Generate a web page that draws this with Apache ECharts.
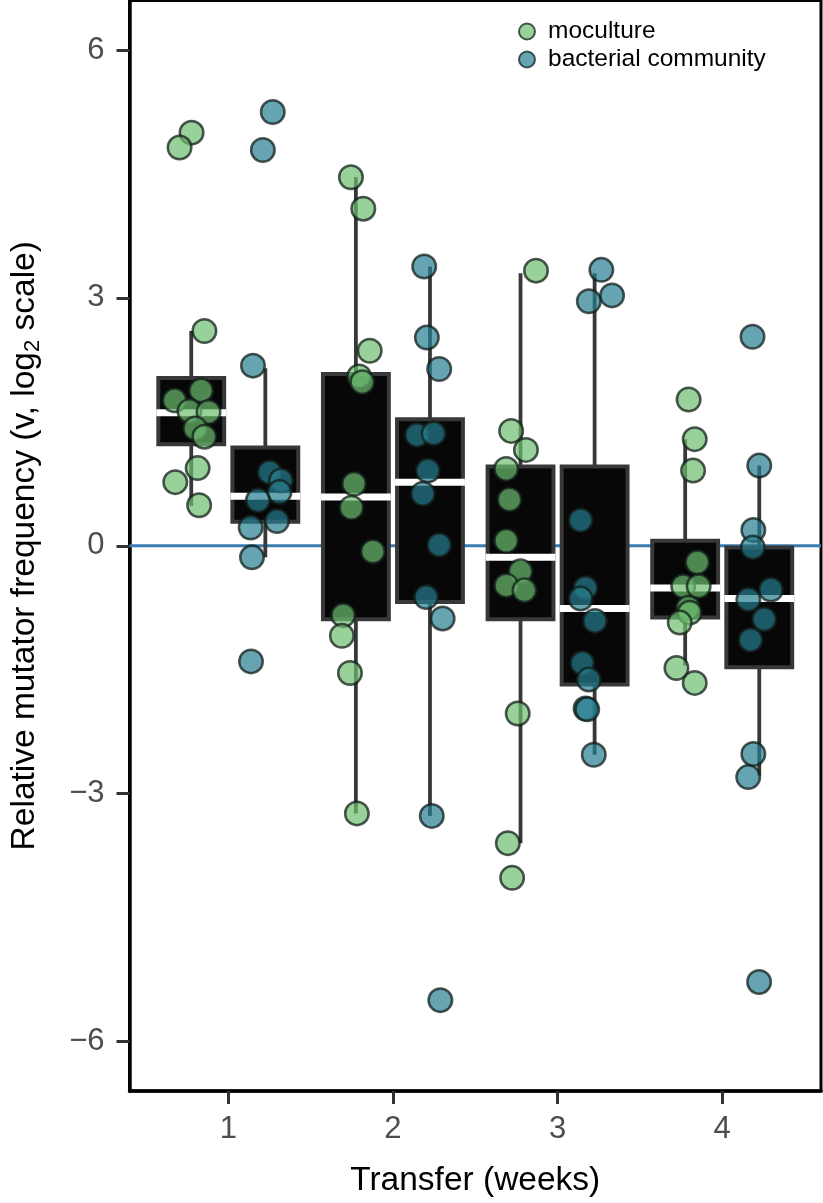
<!DOCTYPE html>
<html><head><meta charset="utf-8">
<script src="https://cdn.jsdelivr.net/npm/echarts@6/dist/echarts.min.js"></script>
<style>html,body{margin:0;padding:0;background:#fff}#c{width:823px;height:1203px}</style>
</head><body><div id="c"></div>
<script>
// Categories (transfer weeks) and tick labels
const categories = [1, 2, 3, 4];
const yTicks = [-6, -3, 0, 3, 6];
const seriesNames = ['moculture', 'bacterial community'];

// Jittered points: x position (weeks axis units) and log2 relative mutator frequency
const mocX = [0.777,0.704,0.855,0.835,0.674,0.764,0.880,0.799,0.855,0.814,0.678,0.823,
              1.745,1.820,1.859,1.795,1.814,1.764,1.748,1.878,1.698,1.690,1.739,1.781,
              2.869,2.718,2.808,2.688,2.708,2.688,2.775,2.688,2.799,2.758,2.698,2.724,
              3.796,3.833,3.823,3.849,3.763,3.857,3.793,3.802,3.742,3.722,3.833];
const mocY = [5.00,4.82,2.60,1.88,1.76,1.63,1.62,1.42,1.32,0.94,0.77,0.49,
              4.46,4.08,2.36,2.05,1.98,0.75,0.46,-0.07,-0.84,-1.09,-1.54,-3.24,
              3.33,1.39,1.16,0.93,0.56,0.06,-0.31,-0.48,-0.54,-2.03,-3.60,-4.02,
              1.77,1.29,0.91,-0.20,-0.49,-0.49,-0.75,-0.81,-0.93,-1.48,-1.66];
const comX = [1.270,1.210,1.150,1.251,1.320,1.311,1.180,1.296,1.136,1.144,1.138,
              2.190,2.206,2.281,2.146,2.247,2.212,2.182,2.281,2.202,2.302,2.236,2.288,
              3.266,3.331,3.190,3.140,3.170,3.140,3.227,3.150,3.190,3.170,3.180,3.220,
              4.184,4.225,4.189,4.186,4.296,4.159,4.255,4.172,4.189,4.158,4.224];
const comY = [5.25,4.79,2.18,0.89,0.79,0.65,0.55,0.30,0.22,-0.14,-1.40,
              3.38,2.52,2.14,1.34,1.36,0.91,0.63,0.01,-0.62,-0.88,-3.27,-5.50,
              3.34,3.03,2.96,0.31,-0.51,-0.64,-0.91,-1.42,-1.62,-1.97,-1.98,-2.53,
              2.53,0.97,0.19,-0.02,-0.53,-0.65,-0.89,-1.14,-2.52,-2.80,-5.28];

// Box statistics per week (lower whisker, Q1, median, Q3, upper whisker)
const mocLo  = [0.48, -3.24, -3.60, -1.45];
const mocQ1  = [1.23, -0.89, -0.89, -0.87];
const mocMed = [1.61, 0.59, -0.14, -0.51];
const mocQ3  = [2.03, 2.08, 0.96, 0.06];
const mocHi  = [2.60, 4.46, 3.30, 1.29];
const comLo  = [-0.14, -3.27, -2.53, -2.78];
const comQ1  = [0.29, -0.68, -1.68, -1.47];
const comMed = [0.60, 0.77, -0.76, -0.64];
const comQ3  = [1.19, 1.53, 0.96, -0.02];
const comHi  = [2.15, 3.38, 3.30, 0.97];

const DODGE = 0.225, BOXW = 0.4;
const FONT = '"Liberation Sans", Arial, Helvetica, sans-serif';
const mocColor = 'rgba(110,190,112,0.88)';
const comColor = 'rgba(38,126,144,0.88)';
const ptBorder = 'rgba(18,28,24,0.92)';

function boxes(lo, q1, med, q3, hi, off) {
  return categories.map((c, i) => [c + off, lo[i], q1[i], med[i], q3[i], hi[i]]);
}
function zip(xs, ys) { return xs.map((x, i) => [x, ys[i]]); }

function renderBox(params, api) {
  const x = api.value(0);
  const pLo = api.coord([x, api.value(1)]);
  const pQ1 = api.coord([x, api.value(2)]);
  const pMed = api.coord([x, api.value(3)]);
  const pQ3 = api.coord([x, api.value(4)]);
  const pHi = api.coord([x, api.value(5)]);
  const w = api.size([BOXW, 0])[0];
  return {
    type: 'group',
    children: [
      { type: 'line', shape: { x1: pLo[0], y1: pLo[1], x2: pHi[0], y2: pHi[1] },
        style: { stroke: '#383838', lineWidth: 3.8 } },
      { type: 'rect', shape: { x: pQ3[0] - w / 2, y: pQ3[1], width: w, height: pQ1[1] - pQ3[1] },
        style: { fill: '#070707', stroke: '#383838', lineWidth: 4 } },
      { type: 'line', shape: { x1: pMed[0] - w / 2 - 2, y1: pMed[1], x2: pMed[0] + w / 2 + 2, y2: pMed[1] },
        style: { stroke: '#ffffff', lineWidth: 7 } }
    ]
  };
}

const chart = echarts.init(document.getElementById('c'), null, { renderer: 'canvas' });
chart.setOption({
  backgroundColor: '#ffffff',
  animation: false,
  textStyle: { fontFamily: FONT },
  grid: { left: 123.5, right: 2, top: 0.5, bottom: 108.5, show: true, borderColor: '#000', borderWidth: 3, containLabel: false },
  legend: {
    data: seriesNames,
    orient: 'vertical',
    left: 513, top: 14,
    padding: 5,
    icon: 'circle',
    itemWidth: 16, itemHeight: 16, itemGap: 3,
    textStyle: { fontSize: 24.5, color: '#000', fontFamily: FONT, padding: [0, 0, 0, 8] }
  },
  xAxis: {
    type: 'value', min: 0.4, max: 4.6,
    name: 'Transfer (weeks)', nameLocation: 'middle', nameGap: 73,
    nameTextStyle: { fontSize: 33.5, color: '#000', fontFamily: FONT },
    axisLine: { show: true, onZero: false, lineStyle: { color: '#000', width: 3.5 } },
    axisTick: { show: true, customValues: categories, length: 13, lineStyle: { color: '#333', width: 3 } },
    axisLabel: { customValues: categories, fontSize: 31, color: '#4d4d4d', margin: 23, fontFamily: FONT },
    splitLine: { show: false }
  },
  yAxis: {
    type: 'value', min: -6.6, max: 6.6,
    name: '{a|Relative mutator frequency (v, log}{s|2}{a| scale)}',
    nameLocation: 'middle', nameGap: 86, nameRotate: 90,
    nameTextStyle: {
      rich: {
        a: { fontSize: 33.5, color: '#000', fontFamily: FONT },
        s: { fontSize: 22, color: '#000', fontFamily: FONT, padding: [15, 0, 0, 0] }
      }
    },
    axisLine: { show: true, onZero: false, lineStyle: { color: '#000', width: 3.5 } },
    axisTick: { show: true, customValues: yTicks, length: 13, lineStyle: { color: '#333', width: 3 } },
    axisLabel: { customValues: yTicks, fontSize: 31, color: '#4d4d4d', margin: 25, fontFamily: FONT,
      formatter: v => String(v).replace('-', '\u2212') },
    splitLine: { show: false }
  },
  series: [
    {
      type: 'line', name: 'zero', data: [[0.4, 0], [4.6, 0]], symbol: 'none', silent: true,
      lineStyle: { color: '#3a7cb2', width: 3 }, z: 1
    },
    { type: 'custom', name: 'moc-box', renderItem: renderBox, data: boxes(mocLo, mocQ1, mocMed, mocQ3, mocHi, -DODGE), z: 2, silent: true },
    { type: 'custom', name: 'com-box', renderItem: renderBox, data: boxes(comLo, comQ1, comMed, comQ3, comHi, DODGE), z: 2, silent: true },
    {
      type: 'scatter', name: 'moculture', data: zip(mocX, mocY), symbolSize: 23.5, z: 3,
      itemStyle: { color: mocColor, borderColor: ptBorder, borderWidth: 2.5 }
    },
    {
      type: 'scatter', name: 'bacterial community', data: zip(comX, comY), symbolSize: 23.5, z: 3,
      itemStyle: { color: comColor, borderColor: ptBorder, borderWidth: 2.5 }
    }
  ]
});
</script>
</body></html>
